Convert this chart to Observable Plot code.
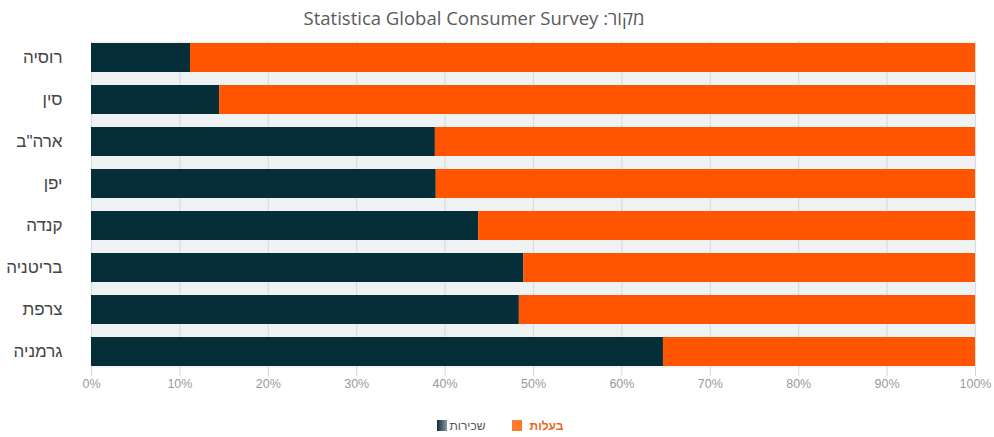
<!DOCTYPE html>
<html>
<head>
<meta charset="utf-8">
<script src="https://cdn.jsdelivr.net/npm/d3@7"></script>
<script src="https://cdn.jsdelivr.net/npm/@observablehq/plot@0.6"></script>
<style>
  html, body { margin: 0; padding: 0; background: #fff; width: 994px; height: 437px; overflow: hidden; }
  #title { height: 28px; line-height: 36px; font-family: "Open Sans", "Liberation Sans", sans-serif; font-size: 18.5px; color: #5a5a5a; text-align: center; padding-right: 46px; box-sizing: border-box; width: 994px; }
  #chart svg { display: block; }
  #legend { display: flex; justify-content: center; align-items: center; font-family: "Liberation Sans", Arial, sans-serif; font-size: 12px; height: 27px; padding-left: 6px; margin-top: 4px; width: 994px; box-sizing: border-box; }
  .sw { width: 10px; height: 11px; display: inline-block; }
  .item { display: flex; align-items: center; margin: 0 13px; }
</style>
</head>
<body>
<div id="title" dir="rtl">מקור: Statistica Global Consumer Survey</div>
<div id="chart"></div>
<div id="legend">
  <div class="item"><span class="sw" style="background:linear-gradient(90deg,#0a2f38,#8a9a9e)"></span><span style="color:#555;margin-left:3px">שכירות</span></div>
  <div class="item"><span class="sw" style="background:#ff7a2e"></span><span style="color:#f2650f;font-weight:bold;margin-left:8px">בעלות</span></div>
</div>
<script>
const countries = ["רוסיה", "סין", "ארה\"ב", "יפן", "קנדה", "בריטניה", "צרפת", "גרמניה"];
const rentShare = [11.2, 14.5, 38.9, 39.0, 43.8, 48.9, 48.4, 64.7];
const xTicks = [0, 10, 20, 30, 40, 50, 60, 70, 80, 90, 100];
const seriesNames = ["שכירות", "בעלות"];
const colors = ["#062e38", "#ff5500"];

const rows = [];
countries.forEach((c, i) => {
  rows.push({country: c, series: seriesNames[0], x1: 0, x2: rentShare[i]});
  rows.push({country: c, series: seriesNames[1], x1: rentShare[i], x2: 100});
});

const chart = Plot.plot({
  width: 994,
  height: 380,
  marginLeft: 91,
  marginRight: 19,
  marginTop: 13,
  marginBottom: 41,
  style: {fontFamily: "Liberation Sans, Arial, sans-serif", background: "transparent"},
  x: {domain: [0, 100], ticks: xTicks},
  y: {domain: countries, paddingInner: 0.316, paddingOuter: 0},
  color: {domain: seriesNames, range: colors},
  marks: [
    Plot.frame({fill: "#eff2f3", stroke: null}),
    Plot.ruleX(xTicks, {stroke: "#d8dcdf", strokeWidth: 1.2}),
    Plot.barX(rows, {y: "country", x1: "x1", x2: "x2", fill: "series", inset: 0}),
    Plot.axisX({ticks: xTicks, tickSize: 9, tickPadding: 3, stroke: "#d5d8da", tickFormat: d => d + "%", fill: "#9a9a9a", fontSize: 12.5, label: null}),
    Plot.axisY({tickSize: 0, tickPadding: 29, fontSize: 17, fill: "#444", label: null})
  ]
});
document.getElementById("chart").appendChild(chart);
</script>
</body>
</html>
